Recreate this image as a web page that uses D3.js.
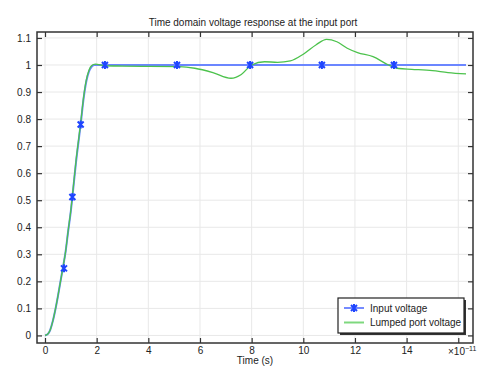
<!DOCTYPE html>
<html>
<head>
<meta charset="utf-8">
<script src="https://cdn.jsdelivr.net/npm/d3@7"></script>
<style>
  body { margin: 0; background: #fff; }
  text { font-family: "Liberation Sans", Arial, sans-serif; fill: #222; }
</style>
</head>
<body>
<div id="chart"></div>
<script>
// time in units of 1e-11 s
const inputT = [0, 0.1, 0.2, 0.3, 0.4, 0.5, 0.6, 0.7, 0.8, 0.9, 1.0, 1.06, 1.2, 1.38, 1.5, 1.6, 1.7, 1.8, 1.9, 2.0, 16.3];
const inputV = [0, 0.004, 0.02, 0.052, 0.095, 0.145, 0.2, 0.254, 0.312, 0.388, 0.46, 0.512, 0.64, 0.78, 0.88, 0.94, 0.975, 0.993, 1.0, 1.0, 1.0];

const lumpedT = [0, 0.1, 0.2, 0.3, 0.4, 0.5, 0.6, 0.7, 0.8, 0.9, 1.0, 1.06, 1.2, 1.38, 1.5, 1.6, 1.7, 1.8, 1.95, 2.3, 3, 4, 5.2, 5.8, 6.5, 7.2, 7.6, 8.0, 8.5, 9.0, 9.5, 10, 10.5, 10.9, 11.3, 11.7, 12.1, 12.7, 13.3, 13.7, 14.2, 15.0, 15.6, 16.3];
const lumpedV = [0, 0.004, 0.02, 0.052, 0.095, 0.145, 0.2, 0.254, 0.312, 0.39, 0.462, 0.515, 0.645, 0.785, 0.885, 0.945, 0.98, 0.997, 1.003, 0.997, 0.996, 0.995, 0.994, 0.988, 0.972, 0.951, 0.965, 1.0, 1.012, 1.01, 1.015, 1.04, 1.075, 1.095, 1.086, 1.062, 1.046, 1.031, 1.0, 0.987, 0.984, 0.979, 0.972, 0.967];

const markerT = [0.735, 1.06, 1.38, 2.32, 5.11, 7.94, 10.72, 13.51];
const markerV = [0.248, 0.512, 0.78, 1.0, 1.0, 1.0, 1.0, 1.0];

const xTicks = [0, 2, 4, 6, 8, 10, 12, 14, 16];
const yTicks = [0, 0.1, 0.2, 0.3, 0.4, 0.5, 0.6, 0.7, 0.8, 0.9, 1, 1.1];

const seriesNames = ["Input voltage", "Lumped port voltage"];

(function () {
  let width = 479, height = 366,
    left = 37, right = 473, top = 32, bottom = 343;

  let x = d3.scaleLinear().domain([-0.31, 16.57]).range([left, right]);
  let y = d3.scaleLinear().domain([-0.028, 1.122]).range([bottom, top]);

  let svg = d3.select("#chart").append("svg")
    .attr("width", width)
    .attr("height", height);

  // grid
  svg.append("g").selectAll("line").data(xTicks).enter().append("line")
    .attr("x1", d => x(d)).attr("x2", d => x(d))
    .attr("y1", top).attr("y2", bottom)
    .attr("stroke", "#e8e8e8");
  svg.append("g").selectAll("line").data(yTicks).enter().append("line")
    .attr("y1", d => y(d)).attr("y2", d => y(d))
    .attr("x1", left).attr("x2", right)
    .attr("stroke", "#e8e8e8");

  // axes with inward ticks
  let fmtY = d => d3.format("~g")(d);
  svg.append("g").attr("transform", `translate(0,${bottom})`)
    .call(d3.axisBottom(x).tickValues(xTicks).tickSize(-5).tickPadding(4)
      .tickFormat(d => d === 16 ? "" : d))
    .call(g => g.select(".domain").remove());
  svg.append("g").attr("transform", `translate(0,${top})`)
    .call(d3.axisTop(x).tickValues(xTicks).tickSize(-5).tickFormat(""))
    .call(g => g.select(".domain").remove());
  svg.append("g").attr("transform", `translate(${left},0)`)
    .call(d3.axisLeft(y).tickValues(yTicks).tickSize(-5).tickPadding(6).tickFormat(fmtY))
    .call(g => g.select(".domain").remove());
  svg.append("g").attr("transform", `translate(${right},0)`)
    .call(d3.axisRight(y).tickValues(yTicks).tickSize(-5).tickFormat(""))
    .call(g => g.select(".domain").remove());

  svg.selectAll(".tick line").attr("stroke", "#333").attr("stroke-width", 1.2);
  svg.selectAll(".tick text").style("font-family", "Liberation Sans, Arial, sans-serif")
    .style("font-size", "10px").attr("fill", "#222");

  // curves
  let line = d3.line().curve(d3.curveMonotoneX)
    .x(d => x(d[0])).y(d => y(d[1]));

  svg.append("path").datum(d3.zip(inputT, inputV))
    .attr("d", line).attr("fill", "none")
    .attr("stroke", "#6b86ff").attr("stroke-width", 2);

  svg.append("path").datum(d3.zip(lumpedT, lumpedV))
    .attr("d", line).attr("fill", "none")
    .attr("stroke", "#4cc24c").attr("stroke-width", 1.3);

  function star(r) {
    let k = r * 0.75;
    return `M0,${-r}L0,${r}M${-k},${-k}L${k},${k}M${-k},${k}L${k},${-k}`;
  }

  svg.append("g").selectAll("path").data(d3.zip(markerT, markerV)).enter().append("path")
    .attr("transform", d => `translate(${x(d[0])},${y(d[1])})`)
    .attr("d", star(4))
    .attr("stroke", "#1f45ff").attr("stroke-width", 2).attr("fill", "none");

  // frame
  svg.append("rect").attr("x", left).attr("y", top)
    .attr("width", right - left).attr("height", bottom - top)
    .attr("fill", "none").attr("stroke", "#333").attr("stroke-width", 1.5);

  // labels
  svg.append("text").attr("x", (left + right) / 2 - 2).attr("y", 26)
    .attr("text-anchor", "middle").style("font-size", "10px")
    .text("Time domain voltage response at the input port");
  svg.append("text").attr("x", (left + right) / 2).attr("y", 364)
    .attr("text-anchor", "middle").style("font-size", "10px")
    .text("Time (s)");
  let sci = svg.append("text").attr("x", 448).attr("y", 355).style("font-size", "10px");
  sci.append("tspan").text("×10");
  sci.append("tspan").attr("dy", -4).style("font-size", "7px").text("−11");

  // legend
  let lg = svg.append("g").attr("transform", "translate(338,298)");
  lg.append("rect").attr("x", 2).attr("y", 2).attr("width", 126).attr("height", 35)
    .attr("fill", "#333");
  lg.append("rect").attr("width", 126).attr("height", 35)
    .attr("fill", "#fff").attr("stroke", "#222").attr("stroke-width", 1.2);
  lg.append("line").attr("x1", 6).attr("x2", 26).attr("y1", 10).attr("y2", 10)
    .attr("stroke", "#2a4dff").attr("stroke-width", 1.3);
  lg.append("path").attr("transform", "translate(16,10)").attr("d", star(4))
    .attr("stroke", "#1f45ff").attr("stroke-width", 2);
  lg.append("line").attr("x1", 6).attr("x2", 26).attr("y1", 24.5).attr("y2", 24.5)
    .attr("stroke", "#7ed87e").attr("stroke-width", 2);
  lg.selectAll("text.lbl").data(seriesNames).enter().append("text")
    .attr("class", "lbl")
    .attr("x", 32).attr("y", (d, i) => 13.5 + i * 14.5)
    .style("font-size", "10px").text(d => d);
})();
</script>
</body>
</html>
